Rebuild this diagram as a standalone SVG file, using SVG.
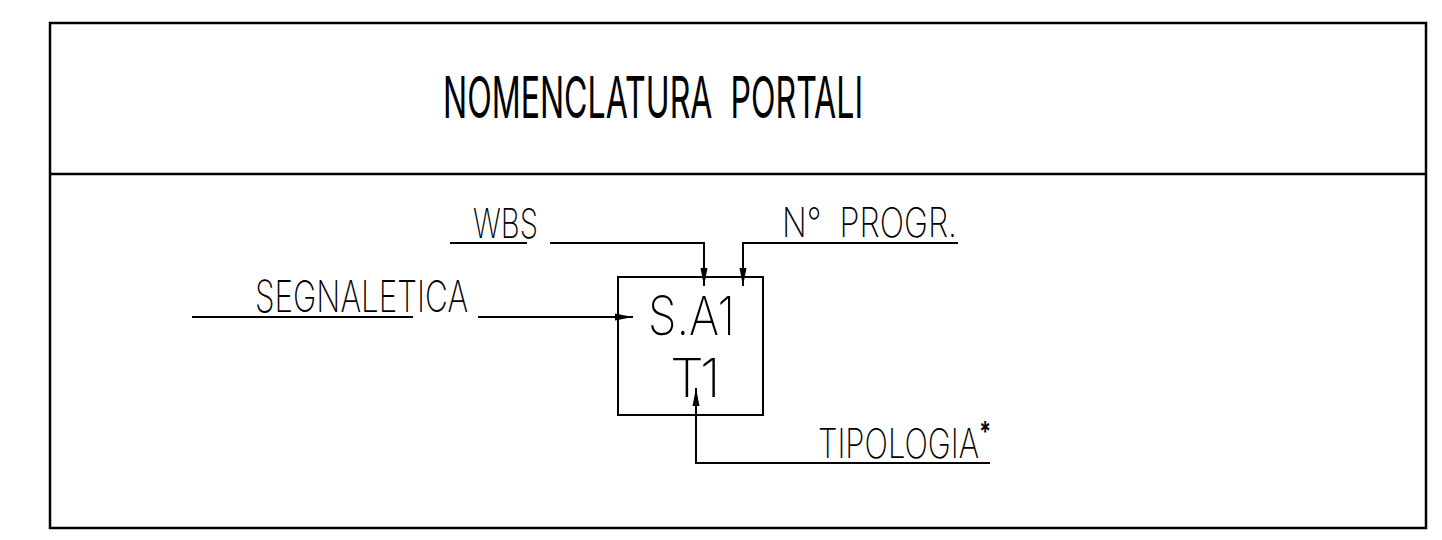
<svg xmlns="http://www.w3.org/2000/svg" width="1442" height="540" viewBox="0 0 1442 540">
  <style>
    .frame { fill: none; stroke: #000; stroke-width: 2.5; }
    .ln { fill: none; stroke: #000; stroke-width: 2; }
    .t { font-family: Inter, "Liberation Sans", Arial, sans-serif; font-weight: 200; fill: #000; white-space: pre; }
    .title { font-weight: 400; }
  </style>
  <defs>
    <marker id="arr" markerUnits="userSpaceOnUse" markerWidth="20" markerHeight="10" refX="18" refY="4" orient="auto" viewBox="0 0 20 8">
      <path d="M0,0.5 L18,4 L0,7.5 Z" fill="#000"/>
    </marker>
  </defs>

  <g id="frame">
    <rect class="frame" x="50" y="23" width="1376" height="505"/>
    <line class="frame" x1="50" y1="174" x2="1426" y2="174"/>
    <text class="t title" x="443" y="118" font-size="58" textLength="420" lengthAdjust="spacingAndGlyphs">NOMENCLATURA  PORTALI</text>
  </g>

  <g id="node-box">
    <rect class="ln" x="618" y="277" width="145" height="138"/>
    <text class="t" x="648" y="335" font-size="54" textLength="87" lengthAdjust="spacingAndGlyphs">S.A1</text>
    <text class="t" x="670 700" y="397" font-size="54">T1</text>
  </g>

  <g id="label-wbs">
    <line class="ln" x1="450" y1="243" x2="527" y2="243"/>
    <text class="t" x="473" y="238" font-size="41" textLength="65" lengthAdjust="spacingAndGlyphs">WBS</text>
  </g>

  <g id="label-nprogr">
    <text class="t" x="782" y="237" font-size="41" textLength="175" lengthAdjust="spacingAndGlyphs">N°  PROGR.</text>
  </g>

  <g id="label-segnaletica">
    <line class="ln" x1="192" y1="317" x2="413" y2="317"/>
    <text class="t" x="255" y="312" font-size="44" textLength="213" lengthAdjust="spacingAndGlyphs">SEGNALETICA</text>
  </g>

  <g id="label-tipologia">
    <text class="t" x="818" y="458" font-size="41" textLength="173" lengthAdjust="spacingAndGlyphs">TIPOLOGIA<tspan font-size="28" font-weight="700" dy="-16">*</tspan></text>
  </g>

  <g id="connectors">
    <path class="ln" d="M550,243 H704 V286" marker-end="url(#arr)"/>
    <path class="ln" d="M958,243 H743 V286" marker-end="url(#arr)"/>
    <path class="ln" d="M478,317 H633" marker-end="url(#arr)"/>
    <path class="ln" d="M990,463 H696 V388" marker-end="url(#arr)"/>
  </g>
</svg>
